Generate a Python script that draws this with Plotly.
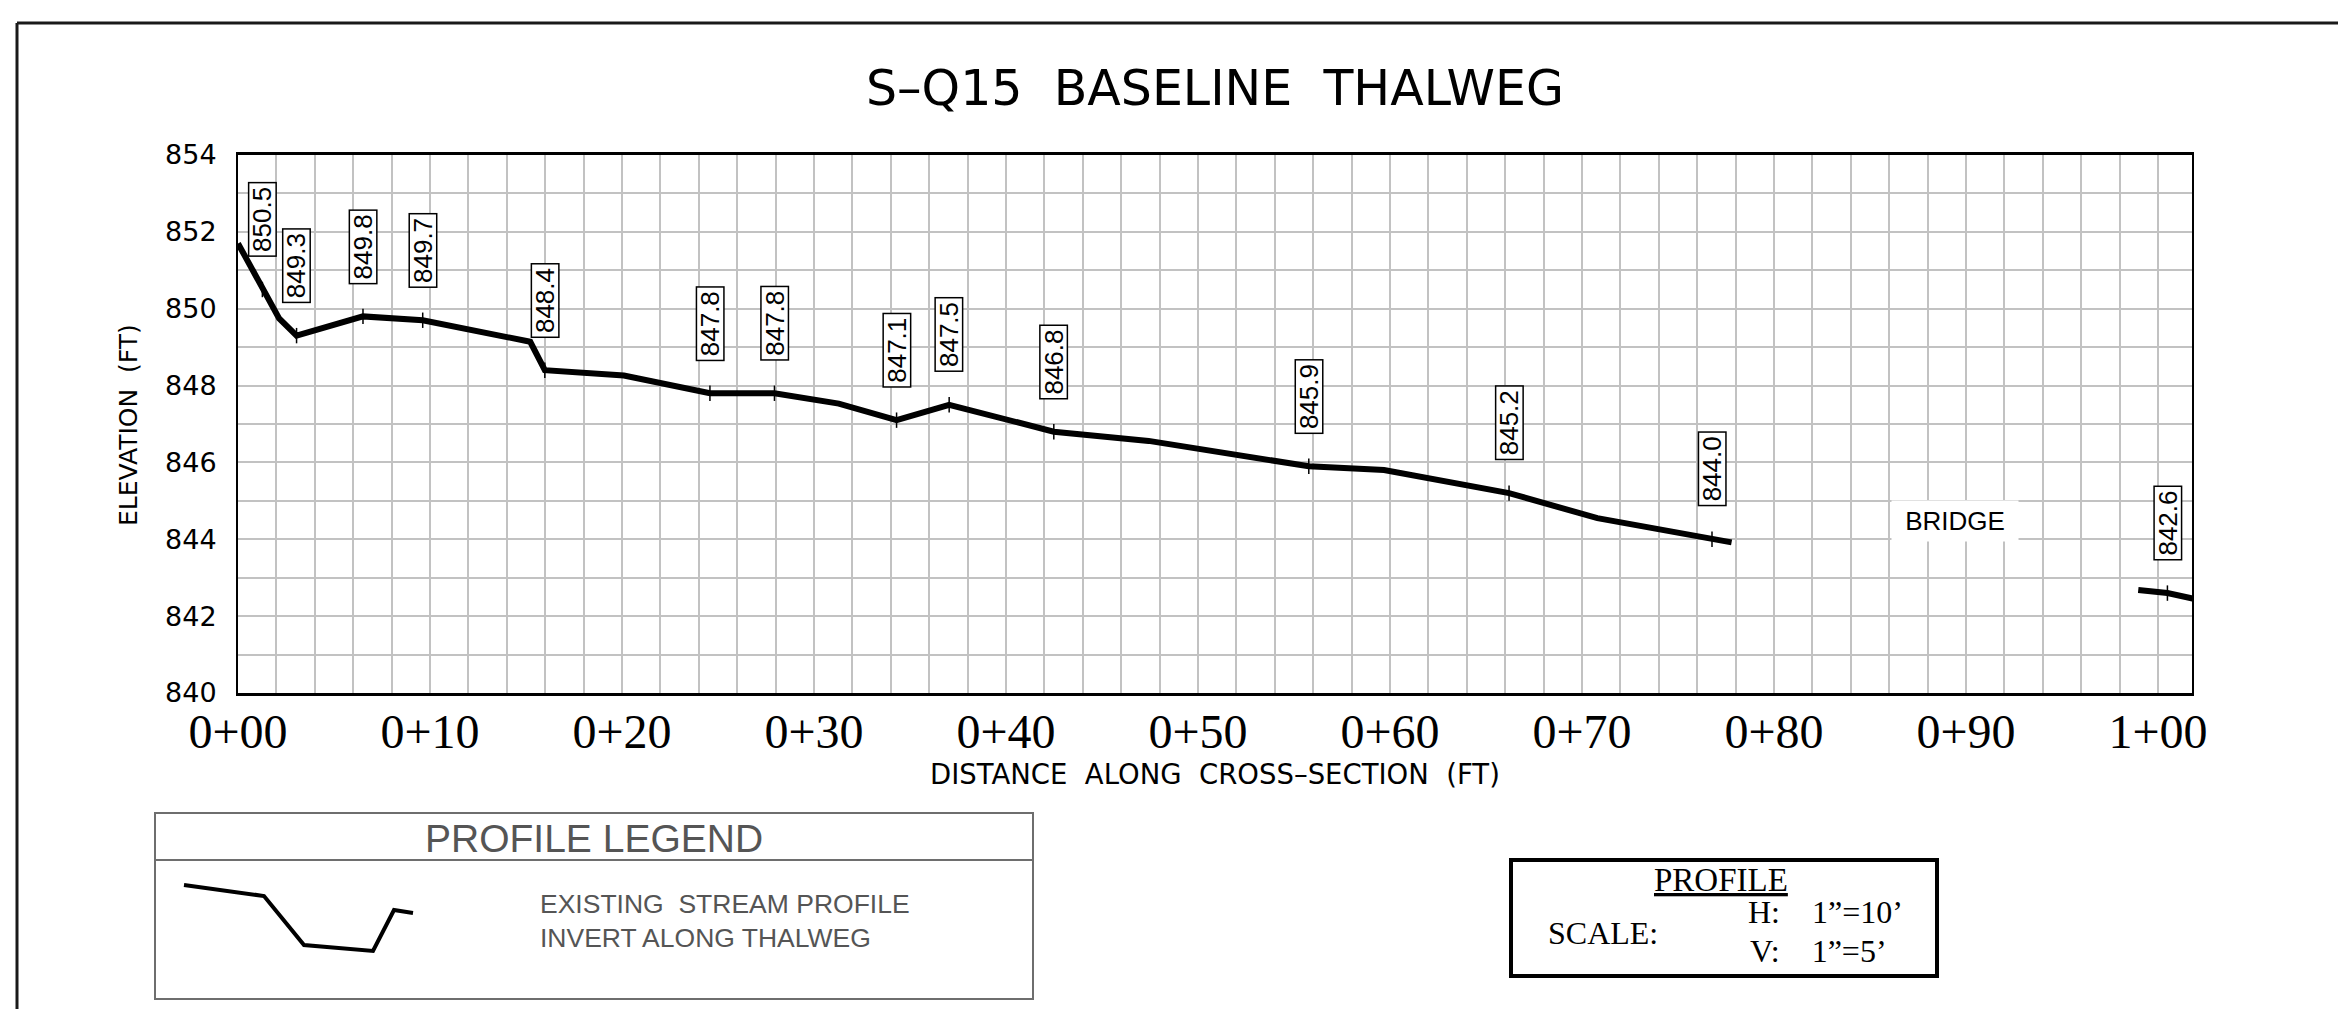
import plotly.graph_objects as go

# ---------------- data ----------------
station = [0.0, 1.27, 2.14, 3.05, 6.51, 9.62, 15.22, 15.98, 20.1, 24.58, 27.94, 31.29,
           34.3, 37.04, 42.49, 47.43, 55.77, 59.69, 66.2, 70.8, 76.77, 77.79]
elevation = [851.70, 850.5, 849.75, 849.3, 849.8, 849.7, 849.14, 848.4, 848.26, 847.8, 847.8, 847.53,
             847.1, 847.5, 846.8, 846.56, 845.9, 845.8, 845.2, 844.55, 844.0, 843.92]

station_ds = [98.97, 100.49, 101.8]
elevation_ds = [842.68, 842.6, 842.46]

label_station = [1.27, 3.05, 6.51, 9.62, 15.98, 24.58, 27.94, 34.3, 37.04, 42.49, 55.77, 66.2, 76.77, 100.49]
label_elev = [850.5, 849.3, 849.8, 849.7, 848.4, 847.8, 847.8, 847.1, 847.5, 846.8, 845.9, 845.2, 844.0, 842.6]

x_tickvals = [0, 10, 20, 30, 40, 50, 60, 70, 80, 90, 100]
x_ticktext = ["0+00", "0+10", "0+20", "0+30", "0+40", "0+50", "0+60", "0+70", "0+80", "0+90", "1+00"]
y_tickvals = [840, 842, 844, 846, 848, 850, 852, 854]
x_range = [0, 101.77]
y_range = [840, 854]

bridge_station = 89.43
bridge_elev = 844.48

# ---------------- layout geometry (pixels) ----------------
W, H = 2338, 1009
L, R, T, B = 238, 2192, 155, 693


def px(X):
    return (X - L) / (R - L)


def py(Y):
    return (B - Y) / (B - T)


fig = go.Figure()

fig.add_trace(go.Scatter(x=station, y=elevation, mode="lines",
                         line=dict(color="black", width=6), hoverinfo="skip"))
fig.add_trace(go.Scatter(x=station_ds, y=elevation_ds, mode="lines",
                         line=dict(color="black", width=6), hoverinfo="skip"))
fig.add_trace(go.Scatter(x=label_station, y=label_elev, mode="markers",
                         marker=dict(symbol="line-ns", size=11,
                                     line=dict(color="black", width=1.5)),
                         hoverinfo="skip"))

annotations = []
for xs, ev in zip(label_station, label_elev):
    annotations.append(dict(
        x=xs, y=ev, xref="x", yref="y", text=f"{ev:.1f}", showarrow=False,
        textangle=-90, yshift=70, xanchor="center", yanchor="middle",
        font=dict(family="Liberation Sans, Arial", size=26, color="black"),
        bgcolor="white", bordercolor="black", borderwidth=1.5, borderpad=1,
        width=70, height=24))

annotations.append(dict(
    x=bridge_station, y=bridge_elev, xref="x", yref="y", text="BRIDGE", showarrow=False,
    xanchor="center", yanchor="middle", bgcolor="white", borderpad=3, width=120, height=34,
    font=dict(family="Liberation Sans, Arial", size=26, color="black")))

# title
annotations.append(dict(
    x=px(1215), y=py(88), xref="paper", yref="paper", showarrow=False,
    text="S–Q15\u00a0\u00a0BASELINE\u00a0\u00a0THALWEG", xanchor="center", yanchor="middle",
    font=dict(family="DejaVu Sans", size=49, color="black")))
# axis titles
annotations.append(dict(
    x=px(1215), y=py(774), xref="paper", yref="paper", showarrow=False,
    text="DISTANCE\u00a0\u00a0ALONG\u00a0\u00a0CROSS–SECTION\u00a0\u00a0(FT)", xanchor="center", yanchor="middle",
    font=dict(family="DejaVu Sans", size=27.5, color="black")))
annotations.append(dict(
    x=px(128), y=py(425), xref="paper", yref="paper", showarrow=False,
    text="ELEVATION\u00a0\u00a0(FT)", textangle=-90, xanchor="center", yanchor="middle",
    font=dict(family="DejaVu Sans", size=25, color="black")))

# profile legend texts
gray = "#555555"
annotations.append(dict(
    x=px(594), y=py(838), xref="paper", yref="paper", showarrow=False,
    text="PROFILE LEGEND", xanchor="center", yanchor="middle",
    font=dict(family="Liberation Sans, Arial", size=39, color=gray)))
annotations.append(dict(
    x=px(538), y=py(904), xref="paper", yref="paper", showarrow=False,
    text="EXISTING\u00a0\u00a0STREAM PROFILE", xanchor="left", yanchor="middle",
    font=dict(family="Liberation Sans, Arial", size=26.5, color=gray)))
annotations.append(dict(
    x=px(538), y=py(938), xref="paper", yref="paper", showarrow=False,
    text="INVERT ALONG THALWEG", xanchor="left", yanchor="middle",
    font=dict(family="Liberation Sans, Arial", size=26.5, color=gray)))

# scale box texts
serif = "Liberation Serif, Times New Roman"
annotations.append(dict(
    x=px(1721), y=py(880), xref="paper", yref="paper", showarrow=False,
    text="<u>PROFILE</u>", xanchor="center", yanchor="middle",
    font=dict(family=serif, size=33, color="black")))
annotations.append(dict(
    x=px(1546), y=py(933), xref="paper", yref="paper", showarrow=False,
    text="SCALE:", xanchor="left", yanchor="middle",
    font=dict(family=serif, size=32, color="black")))
annotations.append(dict(
    x=px(1746), y=py(912), xref="paper", yref="paper", showarrow=False,
    text="H:\u00a0\u00a0\u00a0\u00a01”=10’", xanchor="left", yanchor="middle",
    font=dict(family=serif, size=32, color="black")))
annotations.append(dict(
    x=px(1748), y=py(951), xref="paper", yref="paper", showarrow=False,
    text="V:\u00a0\u00a0\u00a0\u00a01”=5’", xanchor="left", yanchor="middle",
    font=dict(family=serif, size=32, color="black")))

shapes = []
# drawing frame (top and left border)
shapes.append(dict(type="line", xref="paper", yref="paper", x0=px(17), y0=py(23), x1=px(W + 5), y1=py(23),
                   line=dict(color="#1a1a1a", width=3)))
shapes.append(dict(type="line", xref="paper", yref="paper", x0=px(17), y0=py(23), x1=px(17), y1=py(H + 5),
                   line=dict(color="#1a1a1a", width=3)))
# legend box
shapes.append(dict(type="rect", xref="paper", yref="paper", x0=px(155), y0=py(813), x1=px(1033), y1=py(999),
                   line=dict(color="#6e6e6e", width=2), fillcolor="rgba(0,0,0,0)"))
shapes.append(dict(type="line", xref="paper", yref="paper", x0=px(155), y0=py(860), x1=px(1033), y1=py(860),
                   line=dict(color="#6e6e6e", width=2)))
# legend glyph
glyph = [(184, 885), (264, 896), (304, 945), (373, 951), (394, 910), (413, 913)]
path = "M " + " L ".join(f"{px(a)},{py(b)}" for a, b in glyph)
shapes.append(dict(type="path", xref="paper", yref="paper", path=path,
                   line=dict(color="black", width=4)))
# scale box
shapes.append(dict(type="rect", xref="paper", yref="paper", x0=px(1511), y0=py(860), x1=px(1937), y1=py(976),
                   line=dict(color="black", width=4), fillcolor="rgba(0,0,0,0)"))

grid_color = "#c2c2c2"
fig.update_layout(
    width=W, height=H,
    margin=dict(l=L, r=W - R, t=T, b=H - B, pad=0),
    paper_bgcolor="white", plot_bgcolor="white",
    showlegend=False,
    annotations=annotations,
    shapes=shapes,
    xaxis=dict(
        range=x_range, tickmode="array", tickvals=x_tickvals, ticktext=x_ticktext,
        showgrid=True, gridcolor=grid_color, gridwidth=2,
        minor=dict(tickmode="linear", tick0=0, dtick=2, showgrid=True, gridcolor=grid_color, gridwidth=2),
        showline=True, linecolor="black", linewidth=2.5, mirror=True,
        ticks="", ticklabelstandoff=-5, zeroline=False,
        tickfont=dict(family=serif, size=48, color="black"),
    ),
    yaxis=dict(
        range=y_range, tickmode="array", tickvals=y_tickvals,
        showgrid=True, gridcolor=grid_color, gridwidth=2,
        minor=dict(tickmode="linear", tick0=840, dtick=1, showgrid=True, gridcolor=grid_color, gridwidth=2),
        showline=True, linecolor="black", linewidth=2, mirror=True,
        ticks="", ticklabelstandoff=14, zeroline=False,
        tickfont=dict(family="DejaVu Sans", size=27, color="black"),
    ),
)

fig.write_html("out.html", config={"displayModeBar": False},
               post_script="document.body.style.margin='0';document.body.style.overflow='hidden';")
